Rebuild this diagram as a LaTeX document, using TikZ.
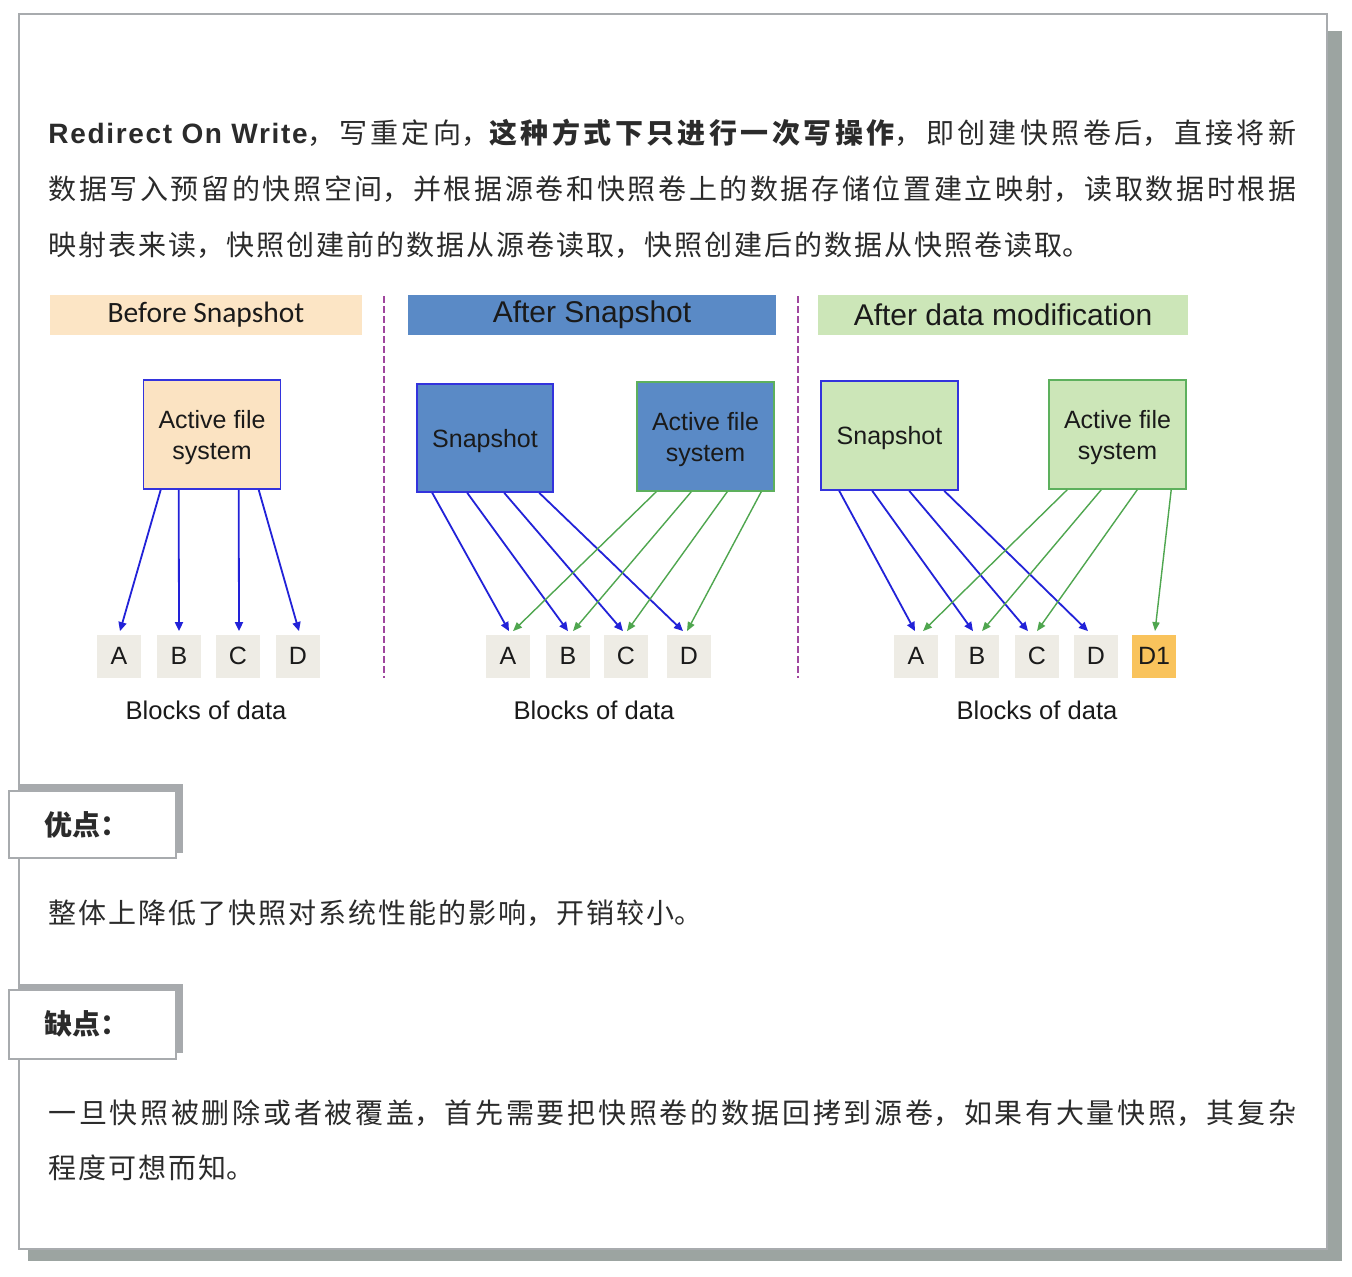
\documentclass[tikz,border=0pt]{standalone}
\usepackage{fontspec}
\setmainfont{Liberation Sans}
\newfontfamily\cjk{Noto Sans CJK SC}
\newfontfamily\lat{Liberation Sans}
\newfontfamily\latsp[LetterSpace=6]{Liberation Sans}
\newfontfamily\carl{Carlito}
\usetikzlibrary{arrows.meta,calc}
\XeTeXlinebreaklocale "zh"
\XeTeXlinebreakskip=1pt plus 3pt minus 0.5pt
\tolerance=9999
\pretolerance=9999
\definecolor{txt}{HTML}{2B2B2B}
\definecolor{diag}{HTML}{1A1A1A}
\definecolor{framec}{HTML}{A8ABAE}
\definecolor{shadowc}{HTML}{9CA4A1}
\definecolor{tabsh}{HTML}{A7AAAD}
\definecolor{hdrorange}{HTML}{FCE5C5}
\definecolor{actorange}{HTML}{FBE3C2}
\definecolor{hdrblue}{HTML}{5A8AC6}
\definecolor{hdrgreen}{HTML}{CCE6B8}
\definecolor{bordblue}{HTML}{3333DD}
\definecolor{arrblue}{HTML}{2222D8}
\definecolor{bordgreen}{HTML}{5DB05D}
\definecolor{arrgreen}{HTML}{4FA64F}
\definecolor{blockc}{HTML}{EEECE5}
\definecolor{donec}{HTML}{F9C35C}
\definecolor{sepc}{HTML}{A0479E}
\newcommand\jtext[1]{\leftskip=0pt\rightskip=0pt\parfillskip=0pt\parindent=0pt #1\par}
\newcommand\rtext[1]{\leftskip=0pt\rightskip=0pt plus 1fil\parfillskip=0pt plus 1fil\parindent=0pt #1\par}
\tikzset{
  para/.style={anchor=west, inner sep=0, text=txt, font=\cjk\fontsize{14pt}{16pt}\selectfont},
  jline/.style={para, text width=624pt},
  tablab/.style={anchor=west, inner sep=0, text=txt, font=\cjk\bfseries\fontsize{14pt}{16pt}\selectfont},
  hdr/.style={inner sep=0, minimum height=20pt, text=diag, font=\lat\fontsize{15pt}{18pt}\selectfont},
  box/.style={draw, line width=0.8pt, inner sep=0, minimum width=68.5pt, minimum height=54.5pt, align=center, text=diag, font=\lat\fontsize{12.5pt}{15.5pt}\selectfont},
  snapbox/.style={box, text height=12pt},
  actbox/.style={box, text height=28pt},
  blk/.style={fill=blockc, inner sep=0, minimum width=22pt, minimum height=21.5pt, text=diag, font=\lat\fontsize{12.5pt}{15pt}\selectfont},
  captxt/.style={text=diag, font=\lat\fontsize{12.8pt}{15pt}\selectfont, inner sep=0},
  barr/.style={draw=arrblue, line width=0.9pt, -{Triangle[length=4.5pt,width=4pt]}},
  garr/.style={draw=arrgreen, line width=0.7pt, -{Triangle[length=4.5pt,width=3.6pt]}},
  sepline/.style={draw=sepc, line width=1pt, dash pattern=on 3.5pt off 1.5pt},
  framebox/.style={draw=framec, line width=1pt, fill=white},
}
\begin{document}
\begin{tikzpicture}[x=0.5pt,y=-0.5pt]
\useasboundingbox (0,0) rectangle (1352,1276);
% outer frame with shadow
\fill[shadowc] (28,31) rectangle (1342,1261);
\draw[framebox] (19,14) rectangle (1327,1249);

% paragraph
\node[jline] (l1) at (48,133) {\jtext{{\latsp\bfseries Redirect On Write}，写重定向，{\bfseries 这种方式下只进行一次写操作}，即创建快照卷后，直接将新}};
\node[jline] (l2) at (48,189) {\jtext{数据写入预留的快照空间，并根据源卷和快照卷上的数据存储位置建立映射，读取数据时根据}};
\node[jline] (l3) at (48,245) {\rtext{映射表来读，快照创建前的数据从源卷读取，快照创建后的数据从快照卷读取。}};

% headers
\node[hdr, fill=hdrorange, minimum width=156pt, font=\carl\fontsize{14.75pt}{18pt}\selectfont] (h1) at (206,315) {Before Snapshot};
\node[hdr, fill=hdrblue, minimum width=184pt] (h2) at (592,315) {After Snapshot};
\node[hdr, fill=hdrgreen, minimum width=185pt] (h3) at (1003,315) {After data modification};

% separators
\draw[sepline] (384,296) -- (384,678);
\draw[sepline] (798,296) -- (798,678);

% panel 1
\node[actbox, draw=bordblue, fill=actorange] (act1) at (212,434.5) {Active file\\system};
\node[blk] (a1) at (119,656) {A};
\node[blk] (b1) at (179,656) {B};
\node[blk] (c1) at (238,656) {C};
\node[blk] (d1) at (298,656) {D};
\node[captxt] (cap1) at (206,710) {Blocks of data};
\draw[barr] ($(act1.south west)+(18,0)$) -- ($(a1.north)+(1,-3)$);
\draw[barr] ($(act1.south west)+(36,0)$) -- ($(b1.north)+(0,-3)$);
\draw[barr] ($(act1.south west)+(96,0)$) -- ($(c1.north)+(1,-3)$);
\draw[barr] ($(act1.south west)+(116,0)$) -- ($(d1.north)+(1,-3)$);

% panel 2
\node[snapbox, draw=bordblue, fill=hdrblue, minimum width=68pt, minimum height=54pt] (snap2) at (485,438) {Snapshot};
\node[actbox, draw=bordgreen, fill=hdrblue] (act2) at (705.5,436.5) {Active file\\system};
\node[blk] (a2) at (508,656) {A};
\node[blk] (b2) at (568,656) {B};
\node[blk] (c2) at (626,656) {C};
\node[blk] (d2) at (689,656) {D};
\node[captxt] (cap2) at (594,710) {Blocks of data};
\draw[barr] ($(snap2.south west)+(16,0)$) -- ($(a2.north)+(1,-3)$);
\draw[barr] ($(snap2.south west)+(51,0)$) -- ($(b2.north)+(0,-3)$);
\draw[barr] ($(snap2.south west)+(88,0)$) -- ($(c2.north)+(-3,-3)$);
\draw[barr] ($(snap2.south west)+(123,0)$) -- ($(d2.north)+(-6,-3)$);
\draw[garr] ($(act2.south west)+(20,0)$) -- ($(a2.north)+(5,-3)$);
\draw[garr] ($(act2.south west)+(55,0)$) -- ($(b2.north)+(5,-3)$);
\draw[garr] ($(act2.south west)+(91,0)$) -- ($(c2.north)+(1,-3)$);
\draw[garr] ($(act2.south west)+(125,0)$) -- ($(d2.north)+(-2,-3)$);

% panel 3
\node[snapbox, draw=bordblue, fill=hdrgreen] (snap3) at (889.5,435.5) {Snapshot};
\node[actbox, draw=bordgreen, fill=hdrgreen] (act3) at (1117.5,434.5) {Active file\\system};
\node[blk] (a3) at (916,656) {A};
\node[blk] (b3) at (977,656) {B};
\node[blk] (c3) at (1037,656) {C};
\node[blk] (d3) at (1096,656) {D};
\node[blk, fill=donec] (e3) at (1154,656) {D1};
\node[captxt] (cap3) at (1037,710) {Blocks of data};
\draw[barr] ($(snap3.south west)+(19,0)$) -- ($(a3.north)+(-1,-3)$);
\draw[barr] ($(snap3.south west)+(52,0)$) -- ($(b3.north)+(-4,-3)$);
\draw[barr] ($(snap3.south west)+(89,0)$) -- ($(c3.north)+(-9,-3)$);
\draw[barr] ($(snap3.south west)+(124,0)$) -- ($(d3.north)+(-8,-3)$);
\draw[garr] ($(act3.south west)+(19,0)$) -- ($(a3.north)+(7,-3)$);
\draw[garr] ($(act3.south west)+(53,0)$) -- ($(b3.north)+(5,-3)$);
\draw[garr] ($(act3.south west)+(89,0)$) -- ($(c3.north)+(0,-3)$);
\draw[garr] ($(act3.south west)+(123,0)$) -- ($(e3.north)+(1,-3)$);

% pros tab
\fill[tabsh] (19,784) rectangle (183,853);
\draw[framebox] (9,791) rectangle (176,858);
\node[tablab] (pro) at (44,825) {优点：};
\node[jline] (protext) at (48,913) {\rtext{整体上降低了快照对系统性能的影响，开销较小。}};

% cons tab
\fill[tabsh] (19,984) rectangle (183,1053);
\draw[framebox] (9,990) rectangle (176,1059);
\node[tablab] (con) at (44,1024) {缺点：};
\node[jline] (con1) at (48,1113) {\jtext{一旦快照被删除或者被覆盖，首先需要把快照卷的数据回拷到源卷，如果有大量快照，其复杂}};
\node[jline] (con2) at (48,1168) {\rtext{程度可想而知。}};
\end{tikzpicture}
\end{document}
